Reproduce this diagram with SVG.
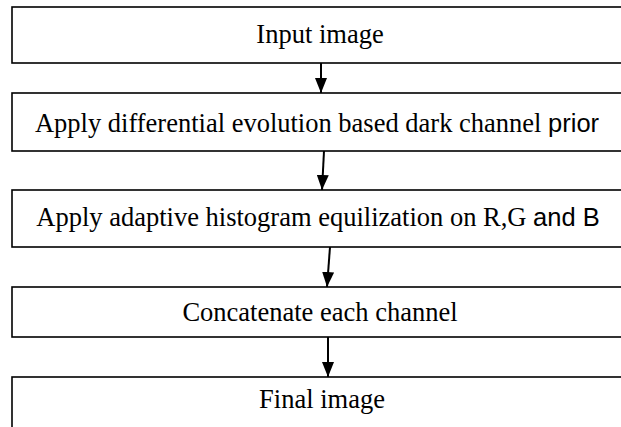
<svg xmlns="http://www.w3.org/2000/svg" width="621" height="427" viewBox="0 0 621 427">
  <defs>
    <style>
      .box { fill: #ffffff; stroke: #000000; stroke-width: 1.6; }
      .lbl { font-family: "Liberation Serif", "Times New Roman", serif; font-size: 26.5px; fill: #000000; text-anchor: middle; }
      .sans { font-family: "Liberation Sans", Arial, sans-serif; font-size: 25.5px; }
      .conn { stroke: #000000; stroke-width: 2; fill: none; marker-end: url(#arrow); }
    </style>
    <marker id="arrow" viewBox="0 0 15 12" refX="15" refY="6" markerWidth="15" markerHeight="12" markerUnits="userSpaceOnUse" orient="auto">
      <path d="M0,0 L15,6 L0,12 Z" fill="#000000"/>
    </marker>
  </defs>
  <rect width="621" height="427" fill="#ffffff"/>
  <g id="n1">
    <rect class="box" x="12" y="7" width="620" height="56"/>
    <text class="lbl" x="320" y="43">Input image</text>
  </g>
  <g id="n2">
    <rect class="box" x="12" y="93" width="620" height="58"/>
    <text class="lbl" x="317" y="132">Apply differential evolution based dark channel <tspan class="sans">prior</tspan></text>
  </g>
  <g id="n3">
    <rect class="box" x="12" y="190" width="620" height="57"/>
    <text class="lbl" x="318" y="226">Apply adaptive histogram equilization on R,G <tspan class="sans">and B</tspan></text>
  </g>
  <g id="n4">
    <rect class="box" x="12" y="287" width="620" height="50"/>
    <text class="lbl" x="320" y="321">Concatenate each channel</text>
  </g>
  <g id="n5">
    <rect class="box" x="12" y="377" width="620" height="80"/>
    <text class="lbl" x="322" y="408">Final image</text>
  </g>
  <g id="connectors">
    <line class="conn" x1="321" y1="63" x2="321" y2="93"/>
    <line class="conn" x1="324" y1="151" x2="322" y2="190"/>
    <line class="conn" x1="330" y1="247" x2="327" y2="287"/>
    <line class="conn" x1="328" y1="337" x2="328" y2="377"/>
  </g>
</svg>
